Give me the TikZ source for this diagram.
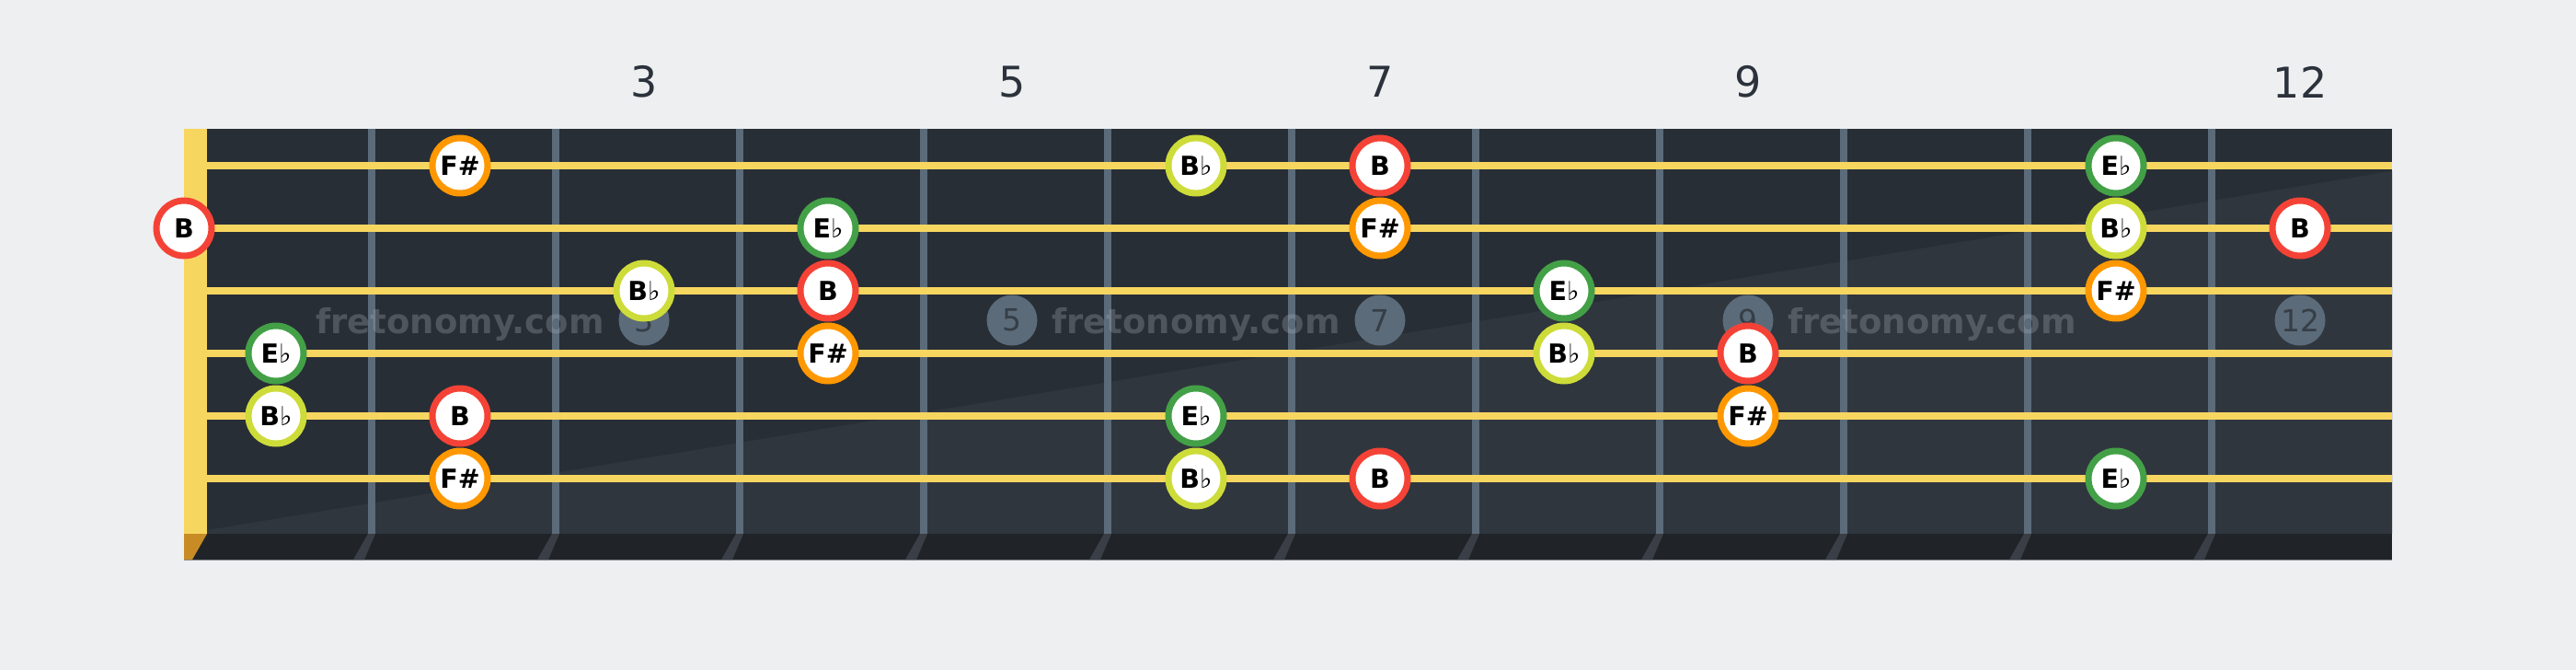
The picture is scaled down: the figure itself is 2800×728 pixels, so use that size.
\documentclass[tikz,border=0pt]{standalone}
\usepackage{fontspec}
\setmainfont{DejaVu Sans}
\definecolor{bgc}{HTML}{EEEFF1}
\definecolor{boardc}{HTML}{282E36}
\definecolor{boardlc}{HTML}{30363E}
\definecolor{stripc}{HTML}{202428}
\definecolor{fretc}{HTML}{5B6B7A}
\definecolor{stringc}{HTML}{F7D660}
\definecolor{nutc}{HTML}{F7D660}
\definecolor{nutbc}{HTML}{C98C25}
\definecolor{shadc}{HTML}{3A3F47}
\definecolor{edgec}{HTML}{7F868C}
\definecolor{numc}{HTML}{2B323B}
\definecolor{inlayc}{HTML}{5B6B79}
\definecolor{inlaytc}{HTML}{363E47}
\definecolor{wmc}{HTML}{AAB0B8}
\definecolor{cB}{HTML}{F44336}
\definecolor{cF}{HTML}{FF9800}
\definecolor{cBb}{HTML}{CDDC39}
\definecolor{cEb}{HTML}{43A047}
\newcommand\flatsym{{\mdseries ♭}}
\begin{document}
\begin{tikzpicture}[x=1pt,y=-1pt,
 note/.style={circle,draw=#1,line width=7pt,fill=white,minimum size=60pt,inner sep=0pt,
   font=\fontsize{28.5}{30}\selectfont\bfseries,text=black},
 nB/.style={note=cB},
 nF/.style={note=cF},
 nBb/.style={note=cBb},
 nEb/.style={note=cEb},
 fretnum/.style={font=\fontsize{46}{50}\selectfont,text=numc,inner sep=0pt},
 inlay/.style={circle,fill=inlayc,minimum size=55pt,inner sep=0pt,
   font=\fontsize{33}{36}\selectfont,text=inlaytc},
 wmark/.style={font=\fontsize{37}{40}\selectfont\bfseries,text=wmc,text opacity=0.3,
   inner sep=0pt,anchor=base},
 ]
\fill[bgc] (0,0) rectangle (2800,728);
\useasboundingbox (0,0) rectangle (2800,728);
% board
\fill[boardc] (225,140) rectangle (2600,580);
\fill[boardlc] (225,576) -- (2600,186) -- (2600,580) -- (225,580) -- cycle;
\fill[stripc] (200,580) rectangle (2600,608);
\draw[edgec,line width=1pt] (200,608.5) -- (2600,608.5);
% nut
\fill[nutc] (200,140) rectangle (225,580);
\fill[nutbc] (200,580) -- (225,580) -- (209,608) -- (200,608) -- cycle;
% inlays
\foreach \f in {3,5,7,9,12} {
  \node[inlay] (dot\f) at (100+200*\f,348) {\f};
}
% frets
\foreach \n in {1,...,11} {
  \pgfmathsetmacro\xx{200*\n+204}
  \fill[shadc] (\xx-4,580) -- (\xx+4,580) -- (\xx-8,608) -- (\xx-20,608) -- cycle;
  \fill[fretc] (\xx-3.75,140) rectangle (\xx+3.75,580);
}
% watermarks
\node[wmark] (wm1) at (500,362) {fretonomy.com};
\node[wmark] (wm2) at (1300,362) {fretonomy.com};
\node[wmark] (wm3) at (2100,362) {fretonomy.com};
% strings
\foreach \s in {1,...,6} {
  \pgfmathsetmacro\yy{180+68*(\s-1)}
  \fill[stringc] (225,\yy-3.6) rectangle (2600,\yy+3.6);
}
% fret numbers
\node[fretnum] (fn3) at (700,89) {3};
\node[fretnum] (fn5) at (1100,89) {5};
\node[fretnum] (fn7) at (1500,89) {7};
\node[fretnum] (fn9) at (1900,89) {9};
\node[fretnum] (fn12) at (2500,89) {12};
% notes: string 1 (y=180)
\node[nF]  (s1f2)  at (500,180)  {F\#};
\node[nBb] (s1f6)  at (1300,180) {B\flatsym};
\node[nB]  (s1f7)  at (1500,180) {B};
\node[nEb] (s1f11) at (2300,180) {E\flatsym};
% string 2 (y=248)
\node[nB]  (s2f0)  at (200,248)  {B};
\node[nEb] (s2f4)  at (900,248)  {E\flatsym};
\node[nF]  (s2f7)  at (1500,248) {F\#};
\node[nBb] (s2f11) at (2300,248) {B\flatsym};
\node[nB]  (s2f12) at (2500,248) {B};
% string 3 (y=316)
\node[nBb] (s3f3)  at (700,316)  {B\flatsym};
\node[nB]  (s3f4)  at (900,316)  {B};
\node[nEb] (s3f8)  at (1700,316) {E\flatsym};
\node[nF]  (s3f11) at (2300,316) {F\#};
% string 4 (y=384)
\node[nEb] (s4f1)  at (300,384)  {E\flatsym};
\node[nF]  (s4f4)  at (900,384)  {F\#};
\node[nBb] (s4f8)  at (1700,384) {B\flatsym};
\node[nB]  (s4f9)  at (1900,384) {B};
% string 5 (y=452)
\node[nBb] (s5f1)  at (300,452)  {B\flatsym};
\node[nB]  (s5f2)  at (500,452)  {B};
\node[nEb] (s5f6)  at (1300,452) {E\flatsym};
\node[nF]  (s5f9)  at (1900,452) {F\#};
% string 6 (y=520)
\node[nF]  (s6f2)  at (500,520)  {F\#};
\node[nBb] (s6f6)  at (1300,520) {B\flatsym};
\node[nB]  (s6f7)  at (1500,520) {B};
\node[nEb] (s6f11) at (2300,520) {E\flatsym};
\end{tikzpicture}
\end{document}
